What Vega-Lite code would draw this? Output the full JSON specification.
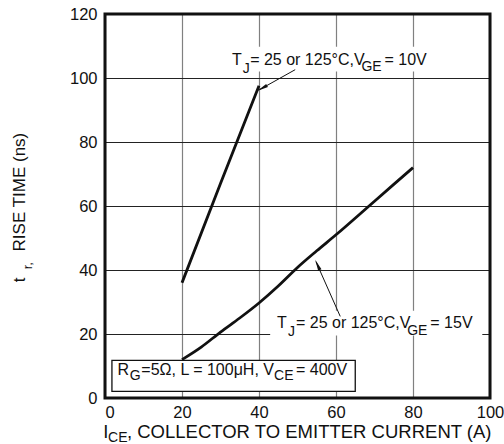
{
  "$schema": "https://vega.github.io/schema/vega-lite/v6.json",
  "width": 385,
  "height": 384,
  "autosize": "none",
  "padding": {"left": 105, "top": 14, "right": 14, "bottom": 46},
  "background": "white",
  "config": {
    "view": {"stroke": null},
    "font": "Liberation Sans",
    "text": {"font": "Liberation Sans", "color": "#111"}
  },
  "datasets": {
    "curves": [
      {"s": "10V", "x": 20, "y": 36},
      {"s": "10V", "x": 30, "y": 67},
      {"s": "10V", "x": 40, "y": 97.6},
      {"s": "15V", "x": 20, "y": 12},
      {"s": "15V", "x": 25, "y": 15.9},
      {"s": "15V", "x": 30, "y": 20.6},
      {"s": "15V", "x": 35, "y": 25},
      {"s": "15V", "x": 40, "y": 29.7},
      {"s": "15V", "x": 45, "y": 35},
      {"s": "15V", "x": 50, "y": 40.8},
      {"s": "15V", "x": 55, "y": 46},
      {"s": "15V", "x": 60, "y": 51},
      {"s": "15V", "x": 70, "y": 61.5},
      {"s": "15V", "x": 80, "y": 72}
    ],
    "arrows": [
      {"a": 1, "x": 49.4, "y": 102.6},
      {"a": 1, "x": 40.2, "y": 96.4},
      {"a": 2, "x": 61.1, "y": 25.5},
      {"a": 2, "x": 54.8, "y": 42.6}
    ],
    "heads": [
      {"a": 1, "x": 40.8, "y": 96.8},
      {"a": 2, "x": 55.2, "y": 41.6}
    ],
    "bg": [
      {"x": 32.0, "x2": 84.9, "y": 102.0, "y2": 109.8},
      {"x": 42.9, "x2": 98.0, "y": 19.5, "y2": 27.3}
    ],
    "box": [
      {"x": 1.8, "x2": 65.0, "y": 2.1, "y2": 11.75}
    ],
    "ann": [
      {"k": "m", "x": 33.0, "y": 104.2, "t": "T"},
      {"k": "s", "x": 35.8, "y": 101.7, "t": "J"},
      {"k": "m", "x": 37.7, "y": 104.2, "t": "= 25 or 125°C,V"},
      {"k": "s", "x": 66.6, "y": 102.1, "t": "GE"},
      {"k": "m", "x": 72.6, "y": 104.2, "t": "= 10V"},
      {"k": "m", "x": 44.7, "y": 21.9, "t": "T"},
      {"k": "s", "x": 47.5, "y": 19.3, "t": "J"},
      {"k": "m", "x": 49.6, "y": 21.9, "t": "= 25 or 125°C,V"},
      {"k": "s", "x": 78.5, "y": 19.8, "t": "GE"},
      {"k": "m", "x": 84.5, "y": 21.9, "t": "= 15V"},
      {"k": "m", "x": 3.22, "y": 7.3, "t": "R"},
      {"k": "s", "x": 6.44, "y": 5.7, "t": "G"},
      {"k": "m", "x": 9.43, "y": 7.3, "t": "=5Ω, L = 100μH, V"},
      {"k": "s", "x": 43.9, "y": 5.7, "t": "CE"},
      {"k": "m", "x": 49.6, "y": 7.3, "t": "= 400V"},
      {"k": "tm", "x": -0.44, "y": -12.5, "t": "I"},
      {"k": "ts", "x": 0.8, "y": -13.9, "t": "CE"},
      {"k": "tm", "x": 5.7, "y": -12.5, "t": ", COLLECTOR TO EMITTER CURRENT (A)"},
      {"k": "ym", "x": -20.7, "y": 36.2, "t": "t"},
      {"k": "ys", "x": -18.9, "y": 40.2, "t": "r,"},
      {"k": "ym", "x": -20.7, "y": 45.8, "t": "RISE TIME (ns)"}
    ]
  },
  "layer": [
    {
      "data": {"name": "bg"},
      "mark": {"type": "rect", "fill": "white", "strokeWidth": 0},
      "encoding": {
        "x": {"field": "x", "type": "quantitative", "scale": {"domain": [0, 100], "nice": false},
          "axis": {"values": [0, 20, 40, 60, 80, 100], "title": null, "grid": true, "gridColor": "#808080", "gridWidth": 1.2, "domain": false, "ticks": false, "labelFontSize": 16.5, "labelColor": "#111", "labelPadding": 6, "labelFont": "Liberation Sans",
            "labelAlign": {"condition": {"test": "datum.value == 0", "value": "left"}, "value": "center"}, "labelFlush": false}},
        "x2": {"field": "x2"},
        "y": {"field": "y", "type": "quantitative", "scale": {"domain": [0, 120], "nice": false},
          "axis": {"values": [0, 20, 40, 60, 80, 100, 120], "title": null, "grid": true, "gridColor": "#222", "gridWidth": 1, "domain": false, "ticks": false, "labelFontSize": 16.5, "labelColor": "#111", "labelPadding": 8, "labelFont": "Liberation Sans"}},
        "y2": {"field": "y2"}
      }
    },
    {
      "data": {"name": "box"},
      "mark": {"type": "rect", "fill": "white", "stroke": "#111", "strokeWidth": 1.3},
      "encoding": {
        "x": {"field": "x", "type": "quantitative"},
        "x2": {"field": "x2"},
        "y": {"field": "y", "type": "quantitative"},
        "y2": {"field": "y2"}
      }
    },
    {
      "data": {"name": "curves"},
      "mark": {"type": "line", "color": "#111", "strokeWidth": 2.8, "interpolate": "monotone"},
      "encoding": {
        "x": {"field": "x", "type": "quantitative"},
        "y": {"field": "y", "type": "quantitative"},
        "detail": {"field": "s"}
      }
    },
    {
      "data": {"name": "arrows"},
      "mark": {"type": "line", "color": "#111", "strokeWidth": 1},
      "encoding": {
        "x": {"field": "x", "type": "quantitative"},
        "y": {"field": "y", "type": "quantitative"},
        "detail": {"field": "a"}
      }
    },
    {
      "data": {"name": "heads"},
      "transform": [{"filter": "datum.a == 1"}],
      "mark": {"type": "point", "shape": "M0,-1L-0.32,1L0.32,1Z", "filled": true, "color": "#111", "size": 130, "angle": 241, "opacity": 1},
      "encoding": {
        "x": {"field": "x", "type": "quantitative"},
        "y": {"field": "y", "type": "quantitative"}
      }
    },
    {
      "data": {"name": "heads"},
      "transform": [{"filter": "datum.a == 2"}],
      "mark": {"type": "point", "shape": "M0,-1L-0.32,1L0.32,1Z", "filled": true, "color": "#111", "size": 130, "angle": 336, "opacity": 1},
      "encoding": {
        "x": {"field": "x", "type": "quantitative"},
        "y": {"field": "y", "type": "quantitative"}
      }
    },
    {
      "data": {"name": "ann"},
      "transform": [{"filter": "datum.k == 'm'"}],
      "mark": {"type": "text", "align": "left", "baseline": "alphabetic", "fontSize": 16},
      "encoding": {
        "x": {"field": "x", "type": "quantitative"},
        "y": {"field": "y", "type": "quantitative"},
        "text": {"field": "t"}
      }
    },
    {
      "data": {"name": "ann"},
      "transform": [{"filter": "datum.k == 's'"}],
      "mark": {"type": "text", "align": "left", "baseline": "alphabetic", "fontSize": 14},
      "encoding": {
        "x": {"field": "x", "type": "quantitative"},
        "y": {"field": "y", "type": "quantitative"},
        "text": {"field": "t"}
      }
    },
    {
      "data": {"name": "ann"},
      "transform": [{"filter": "datum.k == 'tm'"}],
      "mark": {"type": "text", "align": "left", "baseline": "alphabetic", "fontSize": 18.5},
      "encoding": {
        "x": {"field": "x", "type": "quantitative"},
        "y": {"field": "y", "type": "quantitative"},
        "text": {"field": "t"}
      }
    },
    {
      "data": {"name": "ann"},
      "transform": [{"filter": "datum.k == 'ts'"}],
      "mark": {"type": "text", "align": "left", "baseline": "alphabetic", "fontSize": 14},
      "encoding": {
        "x": {"field": "x", "type": "quantitative"},
        "y": {"field": "y", "type": "quantitative"},
        "text": {"field": "t"}
      }
    },
    {
      "data": {"name": "ann"},
      "transform": [{"filter": "datum.k == 'ym'"}],
      "mark": {"type": "text", "align": "left", "baseline": "alphabetic", "fontSize": 17, "angle": 270},
      "encoding": {
        "x": {"field": "x", "type": "quantitative"},
        "y": {"field": "y", "type": "quantitative"},
        "text": {"field": "t"}
      }
    },
    {
      "data": {"name": "ann"},
      "transform": [{"filter": "datum.k == 'ys'"}],
      "mark": {"type": "text", "align": "left", "baseline": "alphabetic", "fontSize": 13, "angle": 270},
      "encoding": {
        "x": {"field": "x", "type": "quantitative"},
        "y": {"field": "y", "type": "quantitative"},
        "text": {"field": "t"}
      }
    },
    {
      "data": {"values": [{}]},
      "mark": {"type": "rect", "fill": null, "stroke": "#111", "strokeWidth": 3},
      "encoding": {
        "x": {"datum": 0, "type": "quantitative"},
        "x2": {"datum": 100},
        "y": {"datum": 0, "type": "quantitative"},
        "y2": {"datum": 120}
      }
    }
  ]
}
